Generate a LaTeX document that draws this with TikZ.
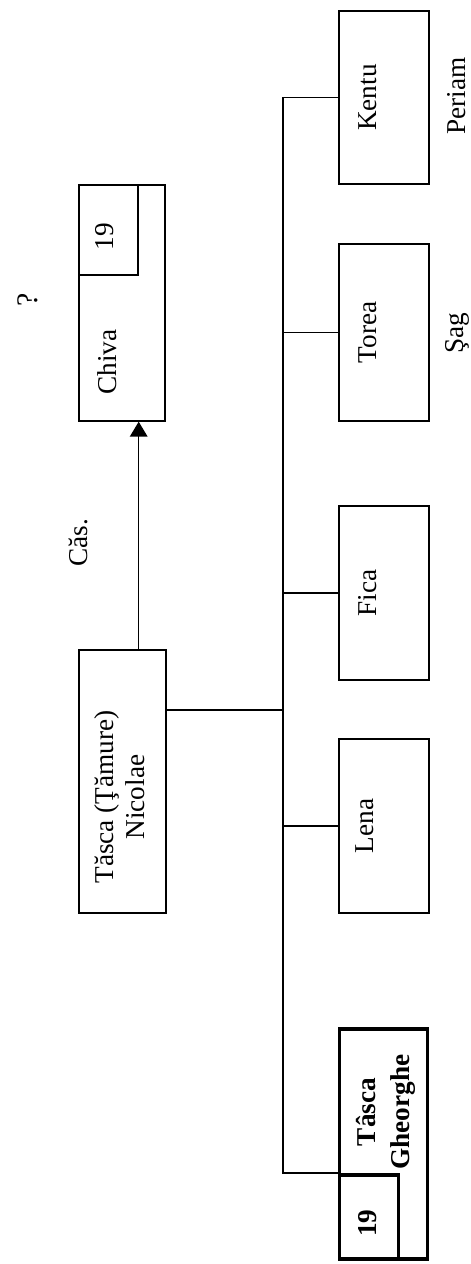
\documentclass[tikz,border=0pt]{standalone}
\usepackage{fontspec}
\setmainfont{Liberation Serif}
\usetikzlibrary{arrows.meta}

\begin{document}
\begin{tikzpicture}[
    font=\fontsize{15.5}{17.5}\selectfont,
    box/.style={rectangle, draw, line width=0.8pt, inner sep=0pt, minimum width=1.8cm, minimum height=3.48cm},
    numbox/.style={rectangle, draw, line width=0.8pt, inner sep=0pt, minimum width=1.18cm, minimum height=1.8cm, anchor=north west},
    thickbox/.style={box, line width=2.2pt},
    boxtext/.style={rotate=90, align=center, inner sep=0pt},
    line/.style={line width=0.8pt},
    arrow/.style={-{Triangle[width=10pt,length=8.5pt]}, line width=0.8pt}
]
    \useasboundingbox (0,0) rectangle (9.42,25.28);

    % Parents
    \node[box, minimum width=1.72cm, minimum height=4.72cm] (chiva) at (2.44,19.22) {};
    \node[numbox] (chivanr) at (chiva.north west) {};
    \node[boxtext] (chivanrtxt) at (2.10,20.54) {19};
    \node[boxtext] (chivatxt) at (2.14,18.04) {Chiva};
    \node[boxtext, font=\fontsize{17}{19}\selectfont] (unknown) at (0.56,19.28) {?};

    \node[box, minimum width=1.74cm, minimum height=5.26cm] (nicolae) at (2.45,9.65) {};
    \node[boxtext] (nicolaetxt) at (2.40,9.34) {Tăsca (Ţămure)\\Nicolae};

    \draw[arrow] (nicolae.north -| chivanr.east) -- (chiva.south -| chivanr.east);
    \node[boxtext] (marriage) at (1.56,14.42) {Căs.};

    % Children
    \node[box, minimum height=3.46cm] (kentu) at (7.68,23.33) {};
    \node[boxtext] (kentutxt) at (7.36,23.33) {Kentu};
    \node[boxtext] (periam) at (9.14,23.36) {Periam};

    \node[box, minimum height=3.54cm] (torea) at (7.68,18.63) {};
    \node[boxtext] (toreatxt) at (7.36,18.63) {Torea};
    \node[boxtext] (sag) at (9.14,18.62) {Şag};

    \node[box] (fica) at (7.68,13.42) {};
    \node[boxtext] (ficatxt) at (7.36,13.42) {Fica};

    \node[box] (lena) at (7.68,8.76) {};
    \node[boxtext] (lenatxt) at (7.30,8.76) {Lena};

    \node[thickbox, minimum width=1.76cm, minimum height=4.6cm] (gheorghe) at (7.67,2.40) {};
    \node[numbox, line width=2.2pt, minimum height=1.68cm, anchor=south west] (gheorghenr) at (gheorghe.south west) {};
    \node[boxtext, font=\fontsize{15.5}{19}\selectfont\bfseries] (gheorghetxt) at (7.72,3.04) {Tâsca\\Gheorghe};
    \node[boxtext, font=\fontsize{15.5}{17.5}\selectfont\bfseries] (gheorghenrtxt) at (7.36,0.82) {19};

    % Lines of descent
    \coordinate (fork) at (5.66,11.08);
    \draw[line] (nicolae.east |- fork) -- (fork);
    \draw[line] (kentu.west) -- (kentu.west -| fork) -- (gheorghenr.north west -| fork) -- (gheorghenr.north west);
    \draw[line] (torea.west -| fork) -- (torea.west);
    \draw[line] (fica.west -| fork) -- (fica.west);
    \draw[line] (lena.west -| fork) -- (lena.west);
\end{tikzpicture}
\end{document}
